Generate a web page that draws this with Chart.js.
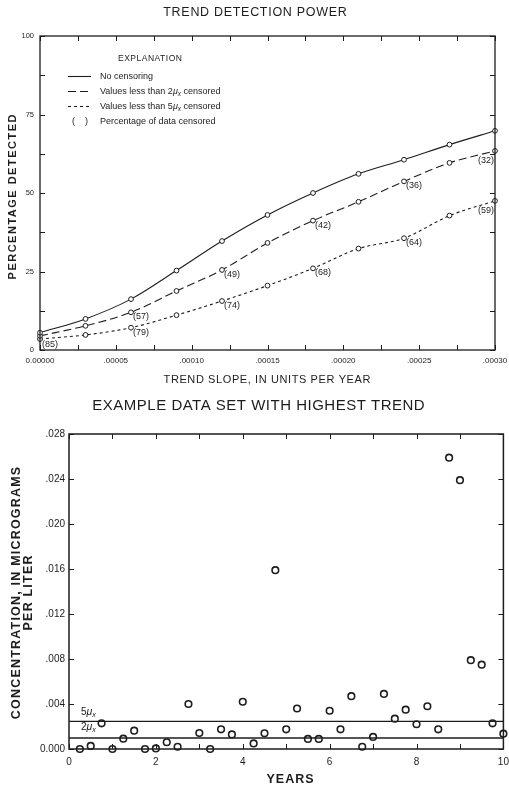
<!DOCTYPE html>
<html>
<head>
<meta charset="utf-8">
<script src="https://cdn.jsdelivr.net/npm/chart.js@4.4.1/dist/chart.umd.min.js"></script>
<style>
  html, body { margin: 0; padding: 0; background: #fff; }
  #page { position: relative; width: 509px; height: 786px; overflow: hidden; background: #fff; }
  #power { position: absolute; left: 0; top: 0; }
  #sample { position: absolute; left: 0; top: 392px; }
</style>
</head>
<body>
<div id="page">
  <canvas id="power" width="509" height="392"></canvas>
  <canvas id="sample" width="509" height="394"></canvas>
</div>
<script>
// ---- Trend detection power (upper panel) ----
const slopes       = [0, 0.00003, 0.00006, 0.00009, 0.00012, 0.00015, 0.00018, 0.00021, 0.00024, 0.00027, 0.0003];
const detectedNone = [5.5, 9.9, 16.2, 25.3, 34.7, 43.0, 50.0, 56.1, 60.6, 65.4, 69.8];
const detected2mu  = [4.5, 7.7, 12.0, 18.8, 25.5, 34.1, 41.2, 47.2, 53.7, 59.6, 63.4];
const detected5mu  = [3.5, 4.8, 7.1, 11.1, 15.6, 20.5, 26.0, 32.3, 35.6, 42.8, 47.5];
const censored2mu  = [null, null, 57, null, 49, null, 42, null, 36, null, 32];
const censored5mu  = [85, null, 79, null, 74, null, 68, null, 64, null, 59];

const slopeTickValues = [0, 0.000025, 0.00005, 0.000075, 0.0001, 0.000125, 0.00015, 0.000175, 0.0002, 0.000225, 0.00025, 0.000275, 0.0003];
const slopeTickLabels = ['0.00000', '', '.00005', '', '.00010', '', '.00015', '', '.00020', '', '.00025', '', '.00030'];
const percentTickValues = [0, 12.5, 25, 37.5, 50, 62.5, 75, 87.5, 100];
const percentTickLabels = ['0', '', '25', '', '50', '', '75', '', '100'];

// ---- Example data set with highest trend (lower panel) ----
const years = [0.25, 0.5, 0.75, 1, 1.25, 1.5, 1.75, 2, 2.25, 2.5, 2.75, 3, 3.25, 3.5, 3.75, 4,
               4.25, 4.5, 4.75, 5, 5.25, 5.5, 5.75, 6, 6.25, 6.5, 6.75, 7, 7.25, 7.5, 7.75, 8,
               8.25, 8.5, 8.75, 9, 9.25, 9.5, 9.75, 10];
const concentration = [0.0000, 0.00027, 0.00228, 0.0000, 0.00092, 0.00163, 0.0000, 0.00005,
                       0.0006, 0.0002, 0.0040, 0.00142, 0.0000, 0.00175, 0.0013, 0.0042,
                       0.0005, 0.0014, 0.0159, 0.00175, 0.0036, 0.0009, 0.0009, 0.0034,
                       0.00175, 0.0047, 0.0002, 0.00107, 0.0049, 0.0027, 0.0035, 0.0022,
                       0.0038, 0.00175, 0.0259, 0.0239, 0.0079, 0.0075, 0.00228, 0.00136];
const level2mu = 0.00098;
const level5mu = 0.00245;

const yearTickValues = [0, 1, 2, 3, 4, 5, 6, 7, 8, 9, 10];
const yearTickLabels = ['0', '', '2', '', '4', '', '6', '', '8', '', '10'];
const concTickValues = [0, 0.004, 0.008, 0.012, 0.016, 0.020, 0.024, 0.028];
const concTickLabels = ['0.000', '.004', '.008', '.012', '.016', '.020', '.024', '.028'];

// ---- shared drawing helpers ----
const INK = '#1d1d1d';
const FAMILY = '"Liberation Sans", Arial, Helvetica, sans-serif';

function spacedText(ctx, text, x, y, font, spacing, align, angle) {
  ctx.save();
  ctx.translate(x, y);
  if (angle) ctx.rotate(angle);
  ctx.font = font;
  ctx.letterSpacing = spacing + 'px';
  ctx.fillStyle = INK;
  ctx.textBaseline = 'middle';
  ctx.textAlign = 'left';
  const w = ctx.measureText(text).width - spacing;
  const sx = align === 'center' ? -w / 2 : (align === 'right' ? -w : 0);
  ctx.fillText(text, sx, 0);
  ctx.restore();
}

function textRuns(ctx, runs, x, y) {
  ctx.save();
  ctx.fillStyle = INK;
  ctx.textBaseline = 'middle';
  ctx.textAlign = 'left';
  let cx = x;
  runs.forEach(r => {
    ctx.font = r.font;
    ctx.fillText(r.t, cx, y + (r.dy || 0));
    cx += ctx.measureText(r.t).width;
  });
  ctx.restore();
}

function frameWithTicks(chart, frameWidth, tickLen) {
  const { ctx, chartArea: a, scales: { x, y } } = chart;
  ctx.save();
  ctx.strokeStyle = INK;
  ctx.lineWidth = frameWidth;
  ctx.strokeRect(a.left, a.top, a.right - a.left, a.bottom - a.top);
  ctx.lineWidth = 1;
  ctx.beginPath();
  x.ticks.forEach(t => {
    const px = Math.round(x.getPixelForValue(t.value)) + 0.5;
    ctx.moveTo(px, a.bottom); ctx.lineTo(px, a.bottom - tickLen);
    ctx.moveTo(px, a.top);    ctx.lineTo(px, a.top + tickLen);
  });
  y.ticks.forEach(t => {
    const py = Math.round(y.getPixelForValue(t.value)) + 0.5;
    ctx.moveTo(a.left, py);  ctx.lineTo(a.left + tickLen, py);
    ctx.moveTo(a.right, py); ctx.lineTo(a.right - tickLen, py);
  });
  ctx.stroke();
  ctx.restore();
}

function fixedAxis(size, horizontal) {
  return scale => {
    if (horizontal) scale.height = size; else scale.width = size;
    scale.paddingLeft = 0; scale.paddingRight = 0;
    scale.paddingTop = 0; scale.paddingBottom = 0;
  };
}

function explicitTicks(values) {
  return scale => { scale.ticks = values.map(v => ({ value: v })); };
}

const pts = ys => slopes.map((s, i) => ({ x: s, y: ys[i] }));
const noGrid = { display: false, drawTicks: false };

// ---- upper panel ----
const powerDecor = {
  id: 'powerDecor',
  afterDatasetsDraw(chart) {
    const { ctx, scales: { x, y } } = chart;
    frameWithTicks(chart, 1.3, 5);

    // censoring percentages beside the points
    ctx.save();
    ctx.fillStyle = INK;
    ctx.font = '9px ' + FAMILY;
    ctx.textBaseline = 'middle';
    const label = (vals, series) => {
      vals.forEach((v, i) => {
        if (v === null) return;
        const px = x.getPixelForValue(slopes[i]);
        const py = y.getPixelForValue(series[i]);
        if (i === slopes.length - 1) {
          ctx.textAlign = 'right';
          ctx.fillText('(' + v + ')', px - 1, py + 10);
        } else {
          ctx.textAlign = 'left';
          ctx.fillText('(' + v + ')', px + 2, py + (i === 0 ? 6 : 4.5));
        }
      });
    };
    label(censored2mu, detected2mu);
    label(censored5mu, detected5mu);
    ctx.restore();
  },
  afterDraw(chart) {
    const { ctx } = chart;
    spacedText(ctx, 'TREND DETECTION POWER', 255, 13, '12.5px ' + FAMILY, 0.7, 'center');
    spacedText(ctx, 'TREND SLOPE, IN UNITS PER YEAR', 267, 380, '11px ' + FAMILY, 0.6, 'center');
    spacedText(ctx, 'PERCENTAGE DETECTED', 13, 197, 'bold 11px ' + FAMILY, 1.5, 'center', -Math.PI / 2);

    // explanation box
    spacedText(ctx, 'EXPLANATION', 118, 58.5, '8.5px ' + FAMILY, 0.5, 'left');
    const rowY = [76.5, 91.5, 106.5, 121.5];
    const dashes = [[], [8, 4], [3, 3]];
    ctx.save();
    ctx.strokeStyle = INK;
    ctx.lineWidth = 1.1;
    dashes.forEach((d, i) => {
      ctx.setLineDash(d);
      ctx.beginPath();
      ctx.moveTo(68, rowY[i]); ctx.lineTo(91, rowY[i]);
      ctx.stroke();
    });
    ctx.restore();
    const nf = '9px ' + FAMILY, itf = 'italic 9px ' + FAMILY, sub = 'italic 6.5px ' + FAMILY;
    textRuns(ctx, [{ t: 'No censoring', font: nf }], 100, rowY[0]);
    textRuns(ctx, [{ t: 'Values less than 2', font: nf }, { t: 'μ', font: itf }, { t: 'x', font: sub, dy: 2.5 }, { t: ' censored', font: nf }], 100, rowY[1]);
    textRuns(ctx, [{ t: 'Values less than 5', font: nf }, { t: 'μ', font: itf }, { t: 'x', font: sub, dy: 2.5 }, { t: ' censored', font: nf }], 100, rowY[2]);
    textRuns(ctx, [{ t: '(    )', font: nf }], 72, rowY[3]);
    textRuns(ctx, [{ t: 'Percentage of data censored', font: nf }], 100, rowY[3]);
  }
};

const seriesStyle = (dash) => ({
  borderColor: INK, borderWidth: 1.1, borderDash: dash,
  pointRadius: 2.4, pointBorderWidth: 1, pointBackgroundColor: '#fff', pointBorderColor: INK,
  cubicInterpolationMode: 'monotone', fill: false, clip: false
});

new Chart(document.getElementById('power'), {
  type: 'line',
  data: {
    datasets: [
      Object.assign({ label: 'No censoring', data: pts(detectedNone) }, seriesStyle([])),
      Object.assign({ label: 'Values less than 2μx censored', data: pts(detected2mu) }, seriesStyle([8, 4])),
      Object.assign({ label: 'Values less than 5μx censored', data: pts(detected5mu) }, seriesStyle([3, 3]))
    ]
  },
  options: {
    responsive: false,
    animation: false,
    events: [],
    layout: { padding: { left: 0, top: 36, right: 14, bottom: 0 } },
    plugins: { legend: { display: false }, tooltip: { enabled: false }, title: { display: false } },
    scales: {
      x: {
        type: 'linear', min: 0, max: 0.0003, position: 'bottom',
        grid: noGrid, border: { display: false },
        afterBuildTicks: explicitTicks(slopeTickValues),
        afterFit: fixedAxis(42, true),
        ticks: { autoSkip: false, maxRotation: 0, padding: 6, color: INK,
                 font: { family: FAMILY, size: 8 },
                 callback: (v, i) => slopeTickLabels[i] }
      },
      y: {
        type: 'linear', min: 0, max: 100,
        grid: noGrid, border: { display: false },
        afterBuildTicks: explicitTicks(percentTickValues),
        afterFit: fixedAxis(40, false),
        ticks: { autoSkip: false, padding: 6, color: INK,
                 font: { family: FAMILY, size: 7.5 },
                 callback: (v, i) => percentTickLabels[i] }
      }
    }
  },
  plugins: [powerDecor]
});

// ---- lower panel ----
const sampleDecor = {
  id: 'sampleDecor',
  afterDatasetsDraw(chart) {
    const { ctx, scales: { y } } = chart;
    frameWithTicks(chart, 1.5, 5);
    const f = '10px ' + FAMILY, itf = 'italic 10.5px ' + FAMILY, sub = 'italic 7px ' + FAMILY;
    textRuns(ctx, [{ t: '5', font: f }, { t: 'μ', font: itf }, { t: 'x', font: sub, dy: 3 }], 81, y.getPixelForValue(level5mu) - 9);
    textRuns(ctx, [{ t: '2', font: f }, { t: 'μ', font: itf }, { t: 'x', font: sub, dy: 3 }], 81, y.getPixelForValue(level2mu) - 10.5);
  },
  afterDraw(chart) {
    const { ctx } = chart;
    spacedText(ctx, 'EXAMPLE DATA SET WITH HIGHEST TREND', 258.5, 14, '15px ' + FAMILY, 0.5, 'center');
    spacedText(ctx, 'CONCENTRATION, IN MICROGRAMS', 16.5, 201, 'bold 12.5px ' + FAMILY, 1.2, 'center', -Math.PI / 2);
    spacedText(ctx, 'PER LITER', 28.5, 201, 'bold 12.5px ' + FAMILY, 1.2, 'center', -Math.PI / 2);
    spacedText(ctx, 'YEARS', 290, 388, 'bold 12.5px ' + FAMILY, 1, 'center');
  }
};

const levelLine = (label, v) => ({
  type: 'line', label, data: [{ x: 0, y: v }, { x: 10, y: v }],
  borderColor: INK, borderWidth: 1.3, pointRadius: 0, showLine: true, clip: false
});

new Chart(document.getElementById('sample'), {
  type: 'scatter',
  data: {
    datasets: [
      levelLine('5μx', level5mu),
      levelLine('2μx', level2mu),
      {
        label: 'Concentration',
        data: years.map((t, i) => ({ x: t, y: concentration[i] })),
        pointRadius: 3.3, pointBorderWidth: 1.6, pointBorderColor: INK,
        pointBackgroundColor: '#fff', showLine: false, clip: false
      }
    ]
  },
  options: {
    responsive: false,
    animation: false,
    events: [],
    layout: { padding: { left: 0, top: 42, right: 3, bottom: 0 } },
    plugins: { legend: { display: false }, tooltip: { enabled: false }, title: { display: false } },
    scales: {
      x: {
        type: 'linear', min: 0, max: 10, position: 'bottom',
        grid: noGrid, border: { display: false },
        afterBuildTicks: explicitTicks(yearTickValues),
        afterFit: fixedAxis(37, true),
        ticks: { autoSkip: false, maxRotation: 0, padding: 7, color: INK,
                 font: { family: FAMILY, size: 10 },
                 callback: (v, i) => yearTickLabels[i] }
      },
      y: {
        type: 'linear', min: 0, max: 0.028,
        grid: noGrid, border: { display: false },
        afterBuildTicks: explicitTicks(concTickValues),
        afterFit: fixedAxis(69, false),
        ticks: { autoSkip: false, padding: 4, color: INK,
                 font: { family: FAMILY, size: 10 },
                 callback: (v, i) => concTickLabels[i] }
      }
    }
  },
  plugins: [sampleDecor]
});
</script>
</body>
</html>
